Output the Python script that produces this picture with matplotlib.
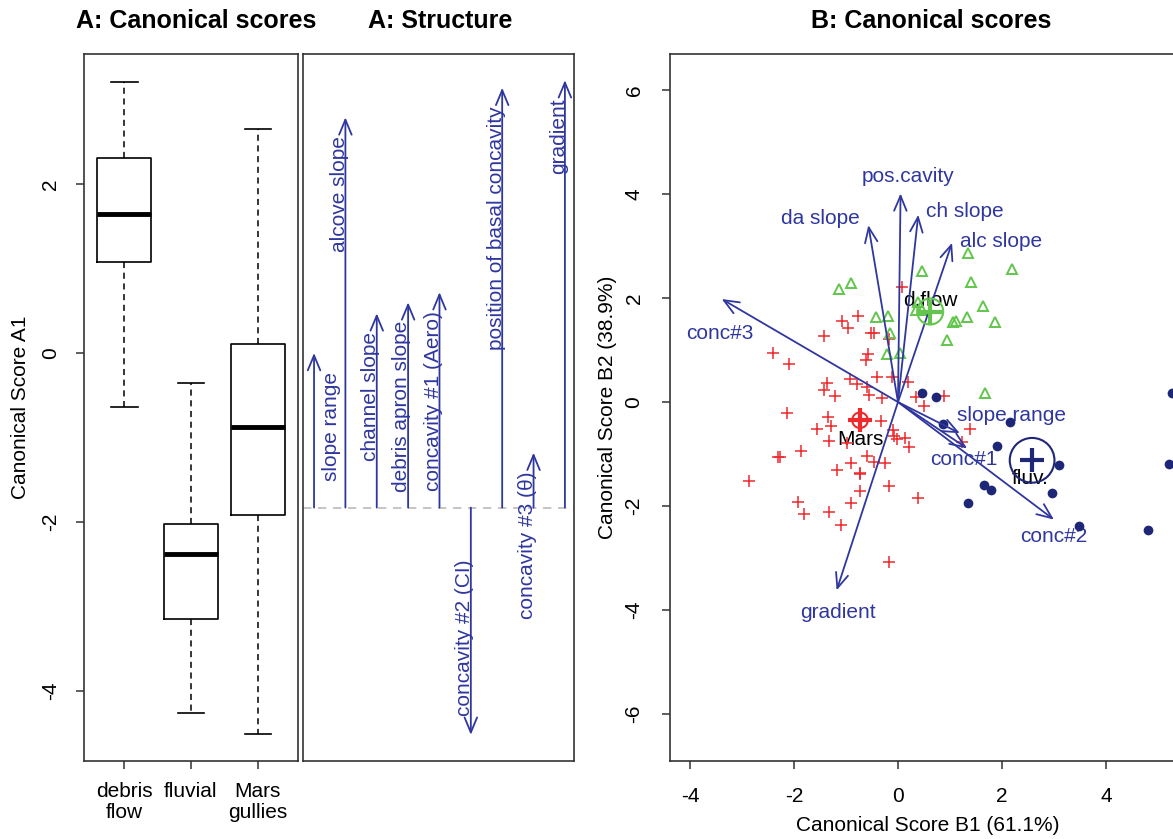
import matplotlib
matplotlib.use("Agg")
import matplotlib.pyplot as plt
from matplotlib.patches import Circle

plt.rcParams['font.family'] = ['Liberation Sans', 'DejaVu Sans']
plt.rcParams['axes.unicode_minus'] = False

# ---------------- Panel A: canonical scores (boxplot) ----------------
box_groups = ["debris\nflow", "fluvial", "Mars\ngullies"]
box_whislo = [-0.64, -4.26, -4.51]
box_q1 = [1.08, -3.15, -1.92]
box_med = [1.64, -2.38, -0.88]
box_q3 = [2.31, -2.02, 0.11]
box_whishi = [3.21, -0.36, 2.65]

# ---------------- Panel A: structure ----------------
struct_labels = ["slope range", "alcove slope", "channel slope", "debris apron slope",
                 "concavity #1 (Aero)", "concavity #2 (CI)", "position of basal concavity",
                 "concavity #3 (\u03b8)", "gradient"]
struct_tips = [0.0, 2.79, 0.47, 0.60, 0.72, -4.52, 3.14, -1.18, 3.23]
struct_base = -1.83

# ---------------- Panel B: canonical scores ----------------
vec_labels = ["pos.cavity", "da slope", "ch slope", "alc slope", "conc#3",
              "gradient", "slope range", "conc#1", "conc#2"]
vec_x = [0.05, -0.57, 0.39, 1.04, -3.39, -1.18, 1.19, 1.33, 3.00]
vec_y = [4.01, 3.40, 3.60, 3.06, 1.98, -3.62, -0.60, -0.89, -2.26]
vec_label_x = [0.20, -1.50, 1.29, 1.98, -3.42, -1.15, 2.19, 1.26, 2.99]
vec_label_y = [4.33, 3.53, 3.66, 3.08, 1.32, -4.04, -0.25, -1.10, -2.59]

group_names = ["d.flow", "fluv.", "Mars"]
centroid_x = [0.62, 2.58, -0.73]
centroid_y = [1.74, -1.12, -0.35]
centroid_r = [0.25, 0.43, 0.15]
group_label_x = [0.62, 2.55, -0.73]
group_label_y = [1.96, -1.47, -0.72]

dflow_x = [-1.13, -0.90, 1.35, 0.47, 1.40, 2.19, 1.64, 1.87, 1.32, 1.12, 1.05,
           0.94, -0.42, -0.20, -0.15, -0.22, 0.03, 1.67, 0.39, 0.47, 0.35]
dflow_y = [2.17, 2.29, 2.87, 2.51, 2.31, 2.55, 1.85, 1.54, 1.64, 1.56, 1.53,
           1.19, 1.64, 1.65, 1.33, 0.92, 0.95, 0.17, 1.93, 1.77, 1.76]

fluv_x = [0.46, 0.74, 0.86, 2.15, 1.90, 3.10, 1.65, 1.78, 1.35, 2.96, 3.49, 4.81, 5.21, 5.28]
fluv_y = [0.18, 0.10, -0.43, -0.38, -0.85, -1.21, -1.60, -1.69, -1.94, -1.74, -2.38, -2.46, -1.19, 0.17]

mars_x = [0.08, -0.76, -1.08, -0.97, -1.42, -0.51, -0.46, -0.17, -2.40, -2.09,
          -0.57, -0.62, -1.37, -1.42, -1.21, -0.92, -0.79, -0.41, -0.60, -0.56,
          -0.31, -0.12, 0.20, 0.34, 0.50, 0.88, -2.14, -1.34, -1.55, -1.28,
          -0.33, -0.10, -0.08, -1.32, -0.99, -0.01, 0.13, 0.21, -1.87, -2.30,
          -2.27, -0.60, -0.47, -0.91, -0.24, -1.17, -0.74, -0.73, -2.87, -0.17,
          -0.74, 0.39, -1.92, -0.91, -1.81, -1.33, -1.10, -0.17, 1.38, 1.24]
mars_y = [2.22, 1.65, 1.56, 1.42, 1.27, 1.32, 1.33, 1.22, 0.95, 0.74,
          0.92, 0.81, 0.36, 0.24, 0.12, 0.44, 0.35, 0.49, 0.29, 0.13,
          0.07, 0.49, 0.39, 0.10, -0.08, 0.12, -0.21, -0.28, -0.52, -0.47,
          -0.36, -0.54, -0.65, -0.75, -0.78, -0.72, -0.70, -0.87, -0.94, -1.06,
          -1.05, -1.03, -1.15, -1.17, -1.18, -1.31, -1.37, -1.39, -1.51, -1.61,
          -1.71, -1.85, -1.92, -1.95, -2.16, -2.11, -2.37, -3.07, -0.51, -0.76]

# ---------------- styling ----------------
BLUE = '#2F379F'
RED = '#EE2A2E'
GREEN = '#62C64C'
NAVY = '#1E2677'
FRAME = '#333333'
FS = 15

W, H = 1173, 839
fig = plt.figure(figsize=(W / 100, H / 100), dpi=100)


def axes_px(left, top, right, bottom):
    return fig.add_axes([left / W, 1 - bottom / H, (right - left) / W, (bottom - top) / H])


ylim_a = (-4.83, 3.54)
ARROW = dict(arrowstyle='->,head_length=0.6,head_width=0.25', color=BLUE,
             lw=1.3, shrinkA=0, shrinkB=0, mutation_scale=18)

# ---- boxplot ----
ax1 = axes_px(84, 54, 298, 761)
stats = []
for i in range(len(box_groups)):
    stats.append(dict(label=box_groups[i], whislo=box_whislo[i], q1=box_q1[i], med=box_med[i],
                      q3=box_q3[i], whishi=box_whishi[i], fliers=[]))
ax1.bxp(stats, positions=[1, 2, 3], widths=0.8, showfliers=False,
        boxprops=dict(color='black', lw=1.2),
        medianprops=dict(color='black', lw=3.5, solid_capstyle='butt'),
        whiskerprops=dict(color='black', lw=1.1, linestyle=(0, (4, 3))),
        capprops=dict(color='black', lw=1.2), capwidths=0.4)
ax1.set_xlim(0.4, 3.6)
ax1.set_ylim(*ylim_a)
ax1.set_yticks([-4, -2, 0, 2])
ax1.set_yticklabels(['-4', '-2', '0', '2'], rotation=90, va='center')
ax1.tick_params(axis='both', labelsize=FS, length=6, width=1.1, color=FRAME)
ax1.tick_params(axis='x', pad=9)
ax1.tick_params(axis='y', pad=11)
for lbl in ax1.get_xticklabels():
    lbl.set_linespacing(1.12)
ax1.set_ylabel("Canonical Score A1", fontsize=FS)
ax1.yaxis.set_label_coords(-0.25, 0.5)
for s in ax1.spines.values():
    s.set_color(FRAME)
    s.set_linewidth(1.2)

# ---- structure ----
ax2 = axes_px(303, 54, 574, 761)
ax2.set_xlim(0.648, 9.29)
ax2.set_ylim(*ylim_a)
ax2.set_xticks([])
ax2.set_yticks([])
for s in ax2.spines.values():
    s.set_color(FRAME)
    s.set_linewidth(1.2)
ax2.axhline(struct_base, color='#BBBBBB', lw=1.2, linestyle=(0, (5, 4)), zorder=1)
label_dx = {0: 0.72}
for i, (lab, tip) in enumerate(zip(struct_labels, struct_tips)):
    x = i + 1
    ax2.annotate("", xy=(x, tip), xytext=(x, struct_base), arrowprops=ARROW, zorder=3)
    tx = x + label_dx.get(i, -0.02)
    if tip > struct_base:
        ax2.text(tx, tip - 0.22, lab, rotation=90, rotation_mode='anchor', ha='right',
                 va='baseline', color=BLUE, fontsize=FS, zorder=4)
    else:
        ax2.text(tx, tip + 0.22, lab, rotation=90, rotation_mode='anchor', ha='left',
                 va='baseline', color=BLUE, fontsize=FS, zorder=4)

# ---- scatter ----
ax3 = axes_px(670, 54, 1186, 761)
ax3.set_xlim(-4.385, 5.54)
ax3.set_ylim(-6.90, 6.69)
ax3.plot(mars_x, mars_y, linestyle='none', marker='+', ms=8, mew=1.1, color=RED, zorder=3)
ax3.plot(dflow_x, dflow_y, linestyle='none', marker='^', ms=7, mew=1.4, mfc='none', mec=GREEN, zorder=3)
ax3.plot(fluv_x, fluv_y, linestyle='none', marker='o', ms=7, mew=0, color=NAVY, zorder=3)

for lab, vx, vy, lx, ly in zip(vec_labels, vec_x, vec_y, vec_label_x, vec_label_y):
    ax3.annotate("", xy=(vx, vy), xytext=(0, 0), arrowprops=ARROW, zorder=4)
    ax3.text(lx, ly, lab, ha='center', va='center', color=BLUE, fontsize=FS, zorder=2)

group_colors = [GREEN, NAVY, RED]
for name, cx, cy, r, lx, ly, col in zip(group_names, centroid_x, centroid_y, centroid_r,
                                         group_label_x, group_label_y, group_colors):
    ax3.add_patch(Circle((cx, cy), r, fill=False, ec=col, lw=1.5, zorder=5))
    ax3.plot([cx], [cy], marker='+', ms=17, mew=3, color=col, zorder=5)
    ax3.text(lx, ly, name, ha='center', va='center', color='black', fontsize=FS, zorder=2)

ax3.set_xticks([-4, -2, 0, 2, 4])
ax3.set_yticks([-6, -4, -2, 0, 2, 4, 6])
ax3.set_yticklabels(['-6', '-4', '-2', '0', '2', '4', '6'], rotation=90, va='center')
ax3.tick_params(axis='both', labelsize=FS, length=6, width=1.1, color=FRAME)
ax3.tick_params(axis='x', pad=13)
ax3.tick_params(axis='y', pad=13)
ax3.set_xlabel("Canonical Score B1 (61.1%)", fontsize=FS, labelpad=7)
ax3.set_ylabel("Canonical Score B2 (38.9%)", fontsize=FS)
ax3.yaxis.set_label_coords(-0.102, 0.5)
for s in ax3.spines.values():
    s.set_color(FRAME)
    s.set_linewidth(1.2)

# ---- titles ----
for tx, t in [(196, "A: Canonical scores"), (440, "A: Structure"), (931, "B: Canonical scores")]:
    fig.text(tx / W, 1 - 21 / H, t, ha='center', va='center', fontsize=18, fontweight='bold')

fig.savefig("out.png", dpi=100)
